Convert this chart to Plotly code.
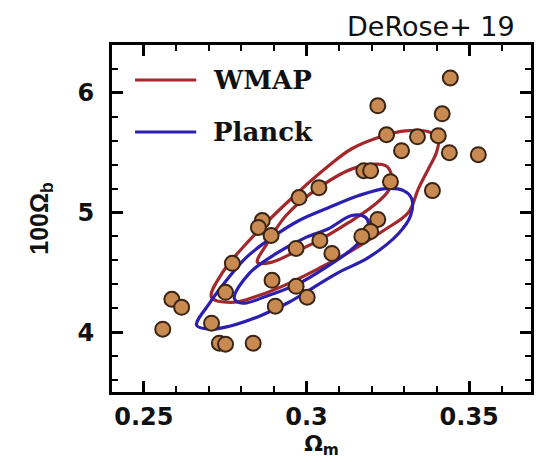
import plotly.graph_objects as go

# Cluster positions: matter density vs. baryon density
omega_m = [0.3442, 0.3219, 0.3417, 0.3246, 0.3341, 0.3405, 0.3292, 0.3439, 0.3528,
           0.3176, 0.3197, 0.3258, 0.3387, 0.3038, 0.2977, 0.2864, 0.2852, 0.2891,
           0.2772, 0.2968, 0.3041, 0.2894, 0.2968, 0.3002, 0.2751, 0.2904, 0.2586,
           0.2616, 0.2558, 0.2708, 0.2732, 0.2751, 0.2836, 0.3219, 0.3197, 0.3170,
           0.3078]
omega_b100 = [6.125, 5.892, 5.825, 5.650, 5.633, 5.642, 5.517, 5.500, 5.483,
              5.350, 5.350, 5.258, 5.183, 5.208, 5.125, 4.933, 4.875, 4.808,
              4.575, 4.700, 4.767, 4.433, 4.383, 4.292, 4.333, 4.217, 4.275,
              4.208, 4.025, 4.075, 3.908, 3.900, 3.908, 4.942, 4.842, 4.800,
              4.658]

# WMAP confidence contours
wmap_95_x = [0.2708, 0.2742, 0.2824, 0.2937, 0.3069, 0.3139, 0.3237, 0.3304, 0.3375,
             0.3405, 0.3399, 0.3375, 0.3344, 0.3313, 0.3237, 0.3130, 0.3038, 0.2946,
             0.2855, 0.2778]
wmap_95_y = [4.292, 4.500, 4.767, 5.075, 5.392, 5.533, 5.642, 5.683, 5.675,
             5.617, 5.500, 5.367, 5.200, 5.000, 4.850, 4.667, 4.533, 4.408,
             4.308, 4.250]
wmap_68_x = [0.2849, 0.2879, 0.2937, 0.3038, 0.3151, 0.3243, 0.3261, 0.3252, 0.3206,
             0.3130, 0.3038, 0.2962, 0.2891]
wmap_68_y = [4.583, 4.742, 4.975, 5.208, 5.375, 5.392, 5.308, 5.183, 5.058,
             4.917, 4.767, 4.667, 4.583]

# Planck confidence contours
planck_95_x = [0.2662, 0.2702, 0.2754, 0.2815, 0.2894, 0.2977, 0.3069, 0.3161, 0.3243,
               0.3298, 0.3323, 0.3320, 0.3283, 0.3191, 0.3099, 0.3032, 0.2946, 0.2855,
               0.2763, 0.2702]
planck_95_y = [4.058, 4.242, 4.433, 4.625, 4.792, 4.933, 5.042, 5.142, 5.200,
               5.183, 5.117, 4.975, 4.825, 4.625, 4.500, 4.392, 4.250, 4.133,
               4.050, 4.025]
planck_68_x = [0.2778, 0.2824, 0.2907, 0.2998, 0.3069, 0.3139, 0.3182, 0.3191, 0.3167,
               0.3115, 0.3069, 0.2977, 0.2876, 0.2803]
planck_68_y = [4.283, 4.492, 4.658, 4.792, 4.867, 4.975, 4.958, 4.875, 4.767,
               4.642, 4.558, 4.408, 4.300, 4.242]

x_ticks = [0.25, 0.3, 0.35]
x_tick_text = ["0.25", "0.3", "0.35"]
y_ticks = [4, 5, 6]
y_tick_text = ["4", "5", "6"]

legend_names = ["WMAP", "Planck"]

WMAP_RED = "#a3282c"
PLANCK_BLUE = "#2a1fb0"
POINT_FILL = "#c98a52"
POINT_EDGE = "#3a2414"
INK = "#111111"


def closed(xs, ys):
    return xs + xs[:1], ys + ys[:1]


fig = go.Figure()

for xs, ys, color in [
    (wmap_95_x, wmap_95_y, WMAP_RED),
    (wmap_68_x, wmap_68_y, WMAP_RED),
    (planck_95_x, planck_95_y, PLANCK_BLUE),
    (planck_68_x, planck_68_y, PLANCK_BLUE),
]:
    cx, cy = closed(xs, ys)
    fig.add_trace(go.Scatter(
        x=cx, y=cy, mode="lines",
        line=dict(color=color, width=3.2, shape="spline", smoothing=1.0),
        showlegend=False, hoverinfo="skip",
    ))

fig.add_trace(go.Scatter(
    x=omega_m, y=omega_b100, mode="markers",
    marker=dict(size=15, color=POINT_FILL, line=dict(color=POINT_EDGE, width=2)),
    showlegend=False,
))

# Legend keys drawn inside the frame
for i, (name, color) in enumerate(zip(legend_names, [WMAP_RED, PLANCK_BLUE])):
    yk = 0.899 - i * 0.15
    fig.add_shape(type="line", xref="x domain", yref="y domain",
                  x0=0.055, x1=0.201, y0=yk, y1=yk,
                  line=dict(color=color, width=3))
    fig.add_annotation(xref="x domain", yref="y domain", x=0.237, y=yk,
                       xanchor="left", yanchor="middle", showarrow=False,
                       text=name,
                       font=dict(family="DejaVu Serif", size=26, color=INK,
                                 weight="bold"))

fig.add_annotation(xref="paper", yref="paper", x=1.0, y=1.0,
                   xanchor="right", yanchor="bottom", showarrow=False,
                   yshift=1, xshift=-14,
                   text="DeRose+ 19",
                   font=dict(family="DejaVu Sans", size=27, color=INK))

axis_common = dict(
    showline=True, linecolor="black", linewidth=3, mirror="allticks",
    ticks="inside", tickcolor="black", tickwidth=2.5, ticklen=11,
    showgrid=False, zeroline=False,
    tickfont=dict(family="DejaVu Sans", size=24, color=INK, weight="bold"),
)

fig.update_xaxes(
    range=[0.2402, 0.369], tickvals=x_ticks, ticktext=x_tick_text,
    minor=dict(dtick=0.01, tick0=0.25, ticks="inside", ticklen=6,
               tickwidth=2, tickcolor="black"),
    ticklabelstandoff=1,
    title=dict(text="Ω<sub>m</sub>", standoff=2,
               font=dict(family="DejaVu Sans", size=22, color=INK,
                         weight="bold")),
    **axis_common,
)
fig.update_yaxes(
    range=[3.5, 6.4], tickvals=y_ticks, ticktext=y_tick_text,
    minor=dict(dtick=0.2, tick0=4, ticks="inside", ticklen=6,
               tickwidth=2, tickcolor="black"),
    ticklabelstandoff=10,
    title=dict(text="100Ω<sub>b</sub>", standoff=22,
               font=dict(family="Liberation Sans", size=25, color=INK,
                         weight="bold")),
    **axis_common,
)

fig.update_layout(
    width=543, height=462,
    margin=dict(l=112, r=9, t=45, b=70),
    paper_bgcolor="white", plot_bgcolor="white",
    showlegend=False,
)

fig.write_html("out.html")
